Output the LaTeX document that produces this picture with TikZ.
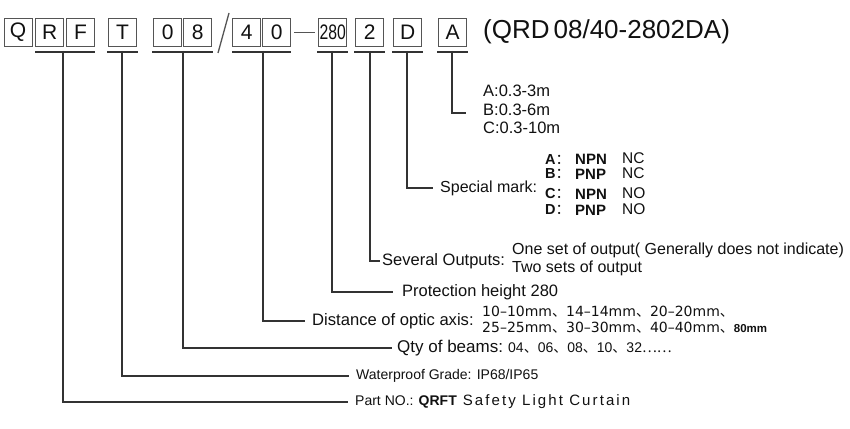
\documentclass[tikz,border=0pt]{standalone}
\usepackage{fontspec}
\usepackage{graphicx}
\setmainfont{Liberation Sans}
\newfontfamily\cjk{Noto Sans CJK SC}
\newfontfamily\wide{DejaVu Sans}
\newcommand\fsz[1]{\fontsize{#1}{#1}\selectfont}
\newcommand\dun{{\cjk 、}}
\definecolor{boxc}{HTML}{555555}
\definecolor{linec}{HTML}{333333}
\definecolor{txtc}{HTML}{111111}
\begin{document}
\begin{tikzpicture}[x=1pt,y=-1pt,
  box/.style={draw=boxc, line width=1.3pt, minimum width=28pt, minimum height=28pt,
    inner sep=0pt, anchor=north west, font=\fsz{21}, text=txtc},
  uline/.style={line width=2pt, draw=linec},
  conn/.style={line width=1.7pt, draw=linec},
  lab/.style={anchor=west, inner sep=0pt, text=txtc}]
\useasboundingbox (0,0) rectangle (850,428);
\fill[white] (0,0) rectangle (850,428);

% code boxes
\node[box] (bQ) at (3.5,18) {Q};
\node[box] (bR) at (35,18) {R};
\node[box] (bF) at (66,18) {F};
\node[box] (bT) at (108,18) {T};
\node[box] (bZa) at (153,18) {0};
\node[box] (bE) at (183,18) {8};
\node[box] (bFo) at (232,18) {4};
\node[box] (bZb) at (262,18) {0};
\node[box] (bH) at (318,18) {\scalebox{0.75}[1]{280}};
\node[box] (bTw) at (355,18) {2};
\node[box] (bD) at (393,18) {D};
\node[box] (bA) at (438,18) {A};

% slash and dash
\coordinate (s1) at (218,53);
\coordinate (s2) at (229,13);
\draw[line width=1.3pt, draw=boxc] (s1) -- (s2);
\draw[line width=1.3pt, draw=boxc, shorten <=3pt, shorten >=3pt] (bZb.east) -- (bH.west);

% title
\node[lab, font=\fsz{26}] (title) at (483,32) {(QRD\hspace{4pt}08/40-2802DA)};

% underlines
\draw[uline] ([yshift=-5pt]bR.south west) -- ([yshift=-5pt]bF.south east);
\draw[uline] ([yshift=-5pt,xshift=-1pt]bT.south west) -- ([yshift=-5pt,xshift=1pt]bT.south east);
\draw[uline] ([yshift=-5pt,xshift=-1pt]bZa.south west) -- ([yshift=-5pt,xshift=1pt]bE.south east);
\draw[uline] ([yshift=-5pt]bFo.south west) -- ([yshift=-5pt]bZb.south east);
\draw[uline] ([yshift=-5pt,xshift=-1pt]bH.south west) -- ([yshift=-5pt,xshift=1pt]bH.south east);
\draw[uline] ([yshift=-5pt,xshift=-1pt]bTw.south west) -- ([yshift=-5pt,xshift=1pt]bTw.south east);
\draw[uline] ([yshift=-5pt,xshift=-1pt]bD.south west) -- ([yshift=-5pt,xshift=1pt]bD.south east);
\draw[uline] ([yshift=-5pt,xshift=-1pt]bA.south west) -- ([yshift=-5pt,xshift=1pt]bA.south east);

% tick points
\coordinate (tRF) at (63,51);
\coordinate (tT) at (122,51);
\coordinate (tE) at (183,51);
\coordinate (tFo) at (263,51);
\coordinate (tH) at (332,51);
\coordinate (tTw) at (370,51);
\coordinate (tD) at (407,51);
\coordinate (tA) at (452,51);

% labels
\node[lab] (lA1) at (483,91) {\fsz{16.5}A:0.3-3m};
\node[lab] (lA2) at (483,110) {\fsz{16.5}B:0.3-6m};
\node[lab] (lA3) at (483,128) {\fsz{16.5}C:0.3-10m};

\node[lab] (lSpec) at (440,188) {\fsz{16}Special mark:};
\node[lab] (sA) at (545,159.5) {\fsz{14.5}\textbf{A}{\cjk ：}};
\node[lab] (sB) at (545,174) {\fsz{14.5}\textbf{B}{\cjk ：}};
\node[lab] (sC) at (545,194) {\fsz{14.5}\textbf{C}{\cjk ：}};
\node[lab] (sD) at (545,210) {\fsz{14.5}\textbf{D}{\cjk ：}};
\node[lab] (pA) at (575,159.5) {\fsz{15}\textbf{NPN}};
\node[lab] (pB) at (575,174) {\fsz{15}\textbf{PNP}};
\node[lab] (pC) at (575,194) {\fsz{15}\textbf{NPN}};
\node[lab] (pD) at (575,210) {\fsz{15}\textbf{PNP}};
\node[lab] (nA) at (622,158.5) {\fsz{15.5}NC};
\node[lab] (nB) at (622,173) {\fsz{15.5}NC};
\node[lab] (nC) at (622,193) {\fsz{15.5}NO};
\node[lab] (nD) at (622,209) {\fsz{15.5}NO};

\node[lab] (lSev) at (382,261) {\fsz{16.5}Several Outputs:};
\node[lab] (lOne) at (512,250) {\fsz{16}One set of output( Generally does not indicate)};
\node[lab] (lTwo) at (512,268) {\fsz{16}Two sets of output};

\node[lab] (lProt) at (402,292) {\fsz{16.5}Protection height 280};

\node[lab] (lDist) at (312,321) {\fsz{16.6}Distance of optic axis:};
\node[lab] (lD1) at (482,312) {\fsz{14}\wide 10–10mm\dun 14–14mm\dun 20–20mm\dun};
\node[lab] (lD2) at (482,327.5) {\fsz{14}\wide 25–25mm\dun 30–30mm\dun 40–40mm\dun{\rmfamily\fsz{11.5}\textbf{80mm}}};

\node[lab] (lQty) at (397,348) {\fsz{17}Qty of beams:};
\node[lab] (lQv) at (508,348) {\fsz{14}04\dun 06\dun 08\dun 10\dun 32{\cjk ……}};

\node[lab] (lWat) at (356,376) {\fsz{14}Waterproof Grade: IP68/IP65};
\node[lab] (lPart) at (355,402) {\fsz{14}Part NO.: \textbf{QRFT}\hspace{6pt}{\fsz{15}\addfontfeature{LetterSpace=14}Safety Light Curtain}};

% connectors
\draw[conn] (tA) |- ([xshift=-17pt,yshift=-3pt]lA2.west);
\draw[conn] (tD) |- ([xshift=-7pt]lSpec.west);
\draw[conn] (tTw) |- ([xshift=-2pt]lSev.west);
\draw[conn] (tH) |- ([xshift=-9pt]lProt.west);
\draw[conn] (tFo) |- ([xshift=-7pt]lDist.west);
\draw[conn] (tE) |- ([xshift=-5pt]lQty.west);
\draw[conn] (tT) |- ([xshift=-7pt]lWat.west);
\draw[conn] (tRF) |- ([xshift=-7pt]lPart.west);
\end{tikzpicture}
\end{document}
